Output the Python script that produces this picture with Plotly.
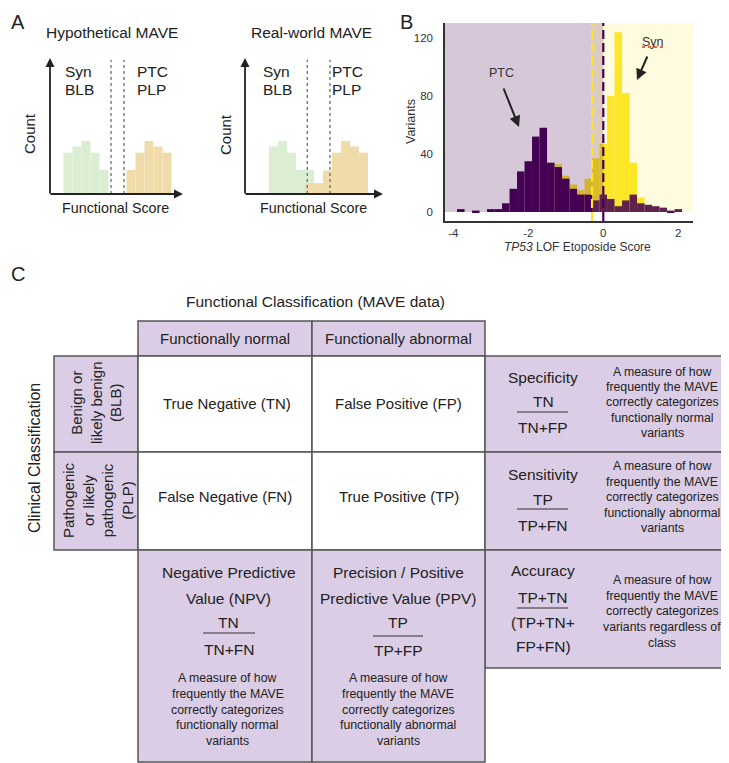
import plotly.graph_objects as go

# Page offset of the plot div inside the HTML body (default body margin)
OX, OY = 8, 8
W, H = 729 - OX, 763 - OY
FONT = "Liberation Sans, Arial, sans-serif"
TXT = "#222222"
LAV = "#dacde5"
BORDER = "#555555"
PURPLE = "#440154"
YELLOW = "#fde725"
GREEN = "#dbeed2"
TAN = "#efdcaa"

# ---------------- Panel B data (TP53 LOF etoposide histogram) ----------------
bin_centers = [-3.8, -3.6, -3.4, -3.2, -3.0, -2.8, -2.6, -2.4, -2.2, -2.0,
               -1.8, -1.6, -1.4, -1.2, -1.0, -0.8, -0.6, -0.4, -0.2, 0.0,
               0.2, 0.4, 0.6, 0.8, 1.0, 1.2, 1.4, 1.6, 1.8, 2.0]
ptc_counts = [2, 0, 1, 0, 2, 2, 6, 16, 28, 35,
              52, 58, 34, 31, 23, 16, 12, 12, 8, 12,
              9, 4, 8, 12, 6, 5, 4, 3, 1, 2]
syn_counts = [0, 0, 0, 0, 0, 0, 0, 0, 0, 0,
              0, 0, 0, 33, 25, 19, 15, 23, 37, 47,
              80, 124, 82, 34, 10, 0, 0, 0, 0, 0]
b_xticks = [-4, -2, 0, 2]
b_yticks = [0, 40, 80, 120]
syn_threshold = -0.3
ptc_threshold = 0.0

# ---------------- Panel A data (schematic histograms) ----------------
hyp_green_x = [2, 3, 4, 5, 6]
hyp_green_y = [5.3, 6.1, 6.8, 5.3, 3.1]
hyp_tan_x = [9, 10, 11, 12, 13]
hyp_tan_y = [3.1, 5.3, 6.8, 6.1, 5.3]
rw_green_x = [3, 4, 5, 6, 7]
rw_green_y = [6.1, 6.8, 5.3, 3.1, 3.1]
rw_tan_x = [7, 8, 9, 10, 11, 12, 13]
rw_tan_y = [1.4, 1.4, 3.0, 5.3, 6.8, 6.1, 5.3]
hyp_cutoffs = [6.78, 8.22]
rw_cutoffs = [6.75, 9.27]


def X(px):
    return (px - OX) / W


def Y(py):
    return 1 - (py - OY) / H


fig = go.Figure()

# Panel B bars
fig.add_trace(go.Bar(x=bin_centers, y=syn_counts, width=0.2, marker=dict(color=YELLOW, line=dict(width=0)),
                     xaxis="x", yaxis="y", showlegend=False))
fig.add_trace(go.Bar(x=bin_centers, y=ptc_counts, width=0.2, marker=dict(color=PURPLE, line=dict(width=0)),
                     xaxis="x", yaxis="y", showlegend=False))

# Panel A bars
fig.add_trace(go.Bar(x=hyp_green_x, y=hyp_green_y, width=1, marker=dict(color=GREEN, line=dict(width=0)),
                     xaxis="x2", yaxis="y2", showlegend=False))
fig.add_trace(go.Bar(x=hyp_tan_x, y=hyp_tan_y, width=1, marker=dict(color=TAN, line=dict(width=0)),
                     xaxis="x2", yaxis="y2", showlegend=False))
fig.add_trace(go.Bar(x=rw_green_x, y=rw_green_y, width=1, marker=dict(color=GREEN, line=dict(width=0)),
                     xaxis="x3", yaxis="y3", showlegend=False))
fig.add_trace(go.Bar(x=rw_tan_x, y=rw_tan_y, width=1, marker=dict(color=TAN, line=dict(width=0)),
                     xaxis="x3", yaxis="y3", showlegend=False))

B_XR = [-4.221, 2.392]
B_YR = [-6.2, 130.3]
A_YR = [0, 136 / 7.8]

shapes = []
ann = []


def txt(x, y, s, size, color=TXT, angle=0, xanchor="center", yanchor="middle"):
    ann.append(dict(x=X(x), y=Y(y), xref="paper", yref="paper", text=s, showarrow=False,
                    font=dict(size=size, color=color, family=FONT), textangle=angle,
                    xanchor=xanchor, yanchor=yanchor))


def arrow(tail, head, width=1.6, size=1.0, head_style=2, color="#222222"):
    ann.append(dict(x=X(head[0]), y=Y(head[1]), xref="paper", yref="paper", text="",
                    showarrow=True, ax=tail[0] - head[0], ay=tail[1] - head[1],
                    axref="pixel", ayref="pixel", arrowhead=head_style, arrowsize=size,
                    arrowwidth=width, arrowcolor=color))


def rect(x0, y0, x1, y1, fill):
    shapes.append(dict(type="rect", xref="paper", yref="paper", x0=X(x0), x1=X(x1), y0=Y(y1), y1=Y(y0),
                       fillcolor=fill, line=dict(color=BORDER, width=1.5), layer="below"))


def hline(x0, x1, y, color="#333333", width=1.2):
    shapes.append(dict(type="line", xref="paper", yref="paper", x0=X(x0), x1=X(x1), y0=Y(y), y1=Y(y),
                       line=dict(color=color, width=width)))


# ---------------- Panel B shading & thresholds ----------------
shapes.append(dict(type="rect", xref="x", yref="y", x0=B_XR[0], x1=ptc_threshold, y0=0, y1=B_YR[1],
                   fillcolor=PURPLE, opacity=0.22, line=dict(width=0), layer="above"))
shapes.append(dict(type="rect", xref="x", yref="y", x0=syn_threshold, x1=B_XR[1], y0=0, y1=B_YR[1],
                   fillcolor=YELLOW, opacity=0.15, line=dict(width=0), layer="above"))
shapes.append(dict(type="line", xref="x", yref="y", x0=syn_threshold, x1=syn_threshold, y0=B_YR[0], y1=B_YR[1],
                   line=dict(color=YELLOW, width=2.2, dash="9px,4px"), layer="above"))
shapes.append(dict(type="line", xref="x", yref="y", x0=ptc_threshold, x1=ptc_threshold, y0=B_YR[0], y1=B_YR[1],
                   line=dict(color=PURPLE, width=2.2, dash="9px,4px"), layer="above"))

# ---------------- Panel A cutoffs ----------------
for c in hyp_cutoffs:
    shapes.append(dict(type="line", xref="x2", yref="y2", x0=c, x1=c, y0=0, y1=17.2,
                       line=dict(color="#777777", width=1.4, dash="dot")))
for c in rw_cutoffs:
    shapes.append(dict(type="line", xref="x3", yref="y3", x0=c, x1=c, y0=0, y1=17.2,
                       line=dict(color="#777777", width=1.4, dash="dot")))

# Panel A axes arrows
for ox, ex in [(50, 183), (245, 383)]:
    arrow((ox, 195), (ox, 58), width=1.8, size=1.0)
    arrow((ox - 1, 194), (ex, 194), width=1.8, size=1.0)

# ---------------- Panel labels ----------------
txt(OX + 1, OY + 1, "A", 20, xanchor="left", yanchor="top")
txt(406, OY + 1, "B", 20, yanchor="top")
txt(OX + 1, 274, "C", 20, xanchor="left")

# Panel A text
txt(112, 33, "Hypothetical MAVE", 15.5)
txt(311, 33, "Real-world MAVE", 15.5)
txt(63, 72, "Syn", 15.5, xanchor="left")
txt(63, 90, "BLB", 15.5, xanchor="left")
txt(135, 72, "PTC", 15.5, xanchor="left")
txt(135, 90, "PLP", 15.5, xanchor="left")
txt(261, 72, "Syn", 15.5, xanchor="left")
txt(261, 90, "BLB", 15.5, xanchor="left")
txt(330, 72, "PTC", 15.5, xanchor="left")
txt(330, 90, "PLP", 15.5, xanchor="left")
txt(29, 134, "Count", 15, angle=-90)
txt(225, 134, "Count", 15, angle=-90)
txt(116, 208, "Functional Score", 14.3)
txt(313, 208, "Functional Score", 14.3)

# Panel B text
txt(411, 122, "Variants", 12.5, color="#333333", angle=-90)
txt(577, 247, "<i>TP53</i> LOF Etoposide Score", 12, color="#333333")
txt(501, 73, "PTC", 12.5, color="#333333")
txt(653, 42, "Syn", 12.5, color="#333333")
shapes.append(dict(type="line", xref="paper", yref="paper", x0=X(642), x1=X(664), y0=Y(47), y1=Y(47),
                   line=dict(color="#e0342a", width=1.5, dash="dot")))
arrow((503, 87), (519, 127), width=2, size=1.1)
arrow((648, 55), (637, 80), width=2, size=1.1)

# ---------------- Panel C table ----------------
rect(138, 321, 312, 356, LAV)
rect(312, 321, 485, 356, LAV)
rect(54, 356, 138, 452, LAV)
rect(54, 452, 138, 550, LAV)
rect(138, 356, 312, 452, "white")
rect(312, 356, 485, 452, "white")
rect(138, 452, 312, 550, "white")
rect(312, 452, 485, 550, "white")
rect(485, 356, 727, 452, LAV)
rect(485, 452, 727, 550, LAV)
rect(485, 550, 727, 668, LAV)
rect(138, 550, 312, 762, LAV)
rect(312, 550, 485, 762, LAV)

txt(315, 302, "Functional Classification (MAVE data)", 15.5)
txt(34, 458, "Clinical Classification", 16, angle=-90)
txt(225, 338, "Functionally normal", 15)
txt(398, 338, "Functionally abnormal", 15)
txt(96, 403, "Benign or<br>likely benign<br>(BLB)", 15, angle=-90)
txt(98, 500, "Pathogenic<br>or likely<br>pathogenic<br>(PLP)", 15, angle=-90)
txt(227, 403, "True Negative (TN)", 15)
txt(398, 403, "False Positive (FP)", 15)
txt(225, 496, "False Negative (FN)", 15)
txt(399, 496, "True Positive (TP)", 15)

SZ = 15.5
DSZ = 12.3


def desc(cx, ys, lines):
    for yy, s in zip(ys, lines):
        txt(cx, yy, s, DSZ)


# Specificity
txt(543, 377, "Specificity", SZ)
txt(543, 401, "TN", SZ)
hline(517, 568, 412)
txt(543, 427, "TN+FP", SZ)
desc(662, [372, 387, 402, 418, 433],
     ["A measure of how", "frequently the MAVE", "correctly categorizes", "functionally normal", "variants"])

# Sensitivity
txt(543, 474, "Sensitivity", SZ)
txt(543, 499, "TP", SZ)
hline(517, 568, 509)
txt(543, 525, "TP+FN", SZ)
desc(662, [466, 482, 497, 513, 528],
     ["A measure of how", "frequently the MAVE", "correctly categorizes", "functionally abnormal", "variants"])

# Accuracy
txt(543, 570, "Accuracy", SZ)
txt(543, 597, "TP+TN", SZ)
hline(517, 568, 608)
txt(543, 622, "(TP+TN+", SZ)
txt(543, 646, "FP+FN)", SZ)
desc(662, [580, 595.5, 611, 627, 643],
     ["A measure of how", "frequently the MAVE", "correctly categorizes", "variants regardless of", "class"])

# NPV
txt(229, 572, "Negative Predictive", SZ)
txt(229, 598, "Value (NPV)", SZ)
txt(229, 622, "TN", SZ)
hline(203, 255, 633)
txt(229, 649, "TN+FN", SZ)
desc(228, [678, 694, 710, 725, 741],
     ["A measure of how", "frequently the MAVE", "correctly categorizes", "functionally normal", "variants"])

# PPV
txt(398, 572, "Precision / Positive", SZ)
txt(398, 598, "Predictive Value (PPV)", SZ)
txt(398, 622, "TP", SZ)
hline(373, 423, 636)
txt(398, 650, "TP+FP", SZ)
desc(398, [678, 694, 710, 725, 741],
     ["A measure of how", "frequently the MAVE", "correctly categorizes", "functionally abnormal", "variants"])

fig.update_layout(
    width=W, height=H,
    margin=dict(l=0, r=0, t=0, b=0),
    paper_bgcolor="white", plot_bgcolor="white",
    barmode="overlay",
    showlegend=False,
    font=dict(family=FONT, color="#333333"),
    xaxis=dict(domain=[X(445), X(693)], range=B_XR, anchor="y", showgrid=False, zeroline=False,
               showline=True, linecolor="#333333", linewidth=1.5, tickvals=b_xticks,
               ticktext=[str(v) for v in b_xticks], ticks="",
               tickfont=dict(size=11.5, color="#333333", family=FONT)),
    yaxis=dict(domain=[Y(221), Y(23)], range=B_YR, anchor="x", showgrid=False, zeroline=False,
               showline=True, linecolor="#333333", linewidth=1.5, tickvals=b_yticks,
               ticks="outside", ticklen=8, tickcolor="rgba(0,0,0,0)",
               tickfont=dict(size=11.5, color="#333333", family=FONT)),
    xaxis2=dict(domain=[X(50), X(183)], range=[0, 133 / 9], anchor="y2", visible=False),
    yaxis2=dict(domain=[Y(194), Y(58)], range=A_YR, anchor="x2", visible=False),
    xaxis3=dict(domain=[X(245), X(383)], range=[-0.17, -0.17 + 138 / 9], anchor="y3", visible=False),
    yaxis3=dict(domain=[Y(194), Y(58)], range=A_YR, anchor="x3", visible=False),
    shapes=shapes,
    annotations=ann,
)

fig.write_html("out.html")
